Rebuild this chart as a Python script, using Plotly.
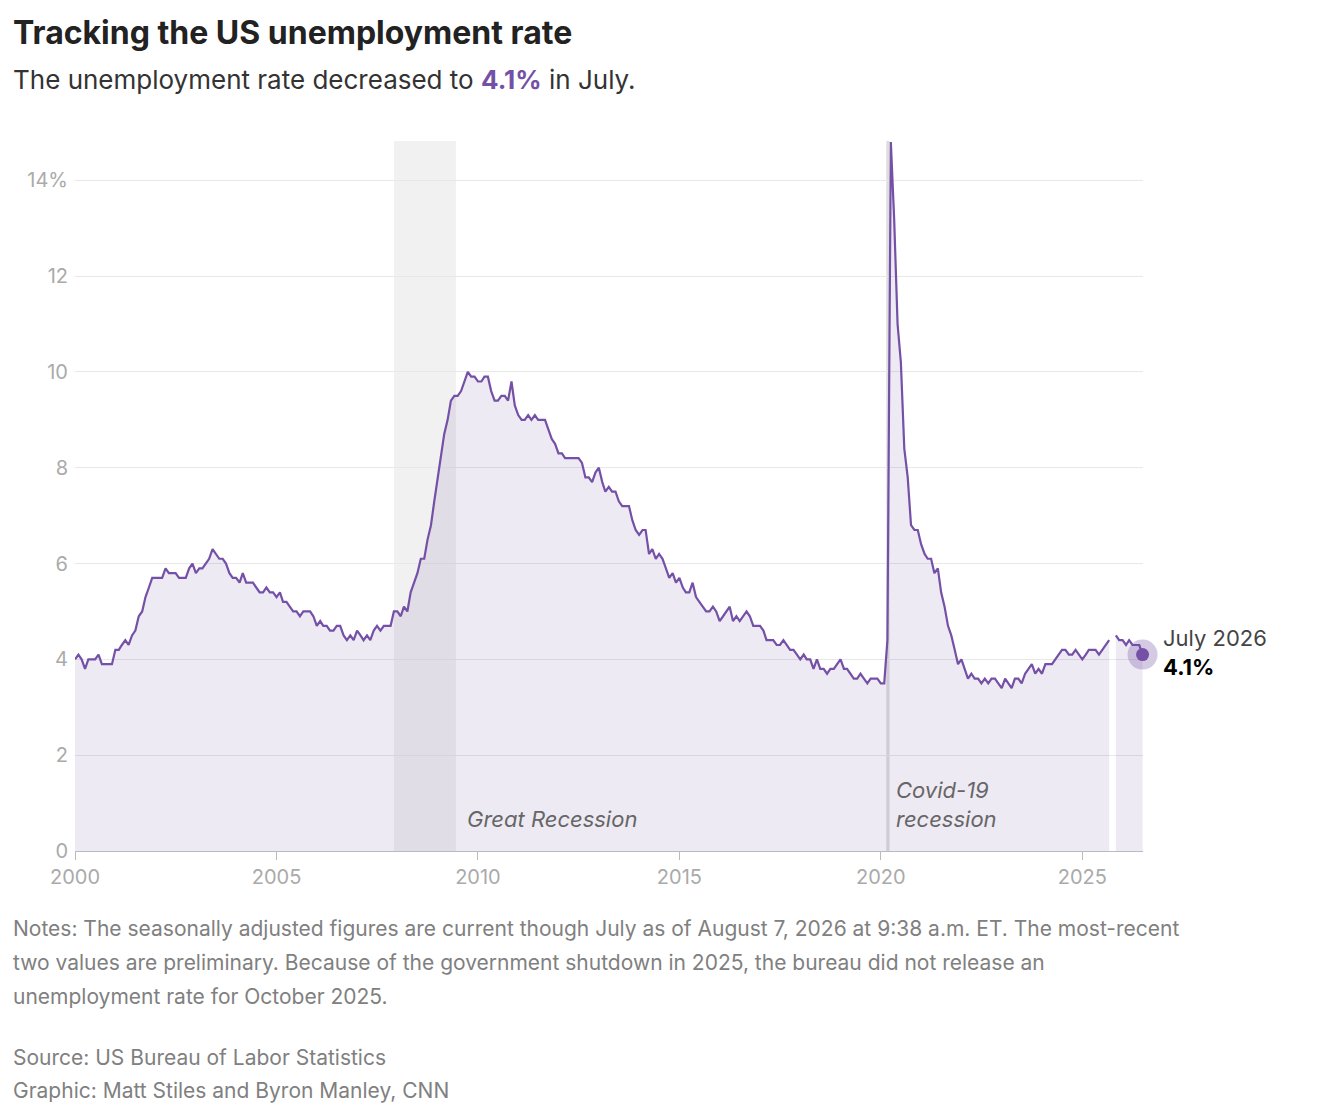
import plotly.graph_objects as go

# Monthly unemployment rate (%), January 2000 to July 2026
rates = {
    2000: [4.0, 4.1, 4.0, 3.8, 4.0, 4.0, 4.0, 4.1, 3.9, 3.9, 3.9, 3.9],
    2001: [4.2, 4.2, 4.3, 4.4, 4.3, 4.5, 4.6, 4.9, 5.0, 5.3, 5.5, 5.7],
    2002: [5.7, 5.7, 5.7, 5.9, 5.8, 5.8, 5.8, 5.7, 5.7, 5.7, 5.9, 6.0],
    2003: [5.8, 5.9, 5.9, 6.0, 6.1, 6.3, 6.2, 6.1, 6.1, 6.0, 5.8, 5.7],
    2004: [5.7, 5.6, 5.8, 5.6, 5.6, 5.6, 5.5, 5.4, 5.4, 5.5, 5.4, 5.4],
    2005: [5.3, 5.4, 5.2, 5.2, 5.1, 5.0, 5.0, 4.9, 5.0, 5.0, 5.0, 4.9],
    2006: [4.7, 4.8, 4.7, 4.7, 4.6, 4.6, 4.7, 4.7, 4.5, 4.4, 4.5, 4.4],
    2007: [4.6, 4.5, 4.4, 4.5, 4.4, 4.6, 4.7, 4.6, 4.7, 4.7, 4.7, 5.0],
    2008: [5.0, 4.9, 5.1, 5.0, 5.4, 5.6, 5.8, 6.1, 6.1, 6.5, 6.8, 7.3],
    2009: [7.8, 8.3, 8.7, 9.0, 9.4, 9.5, 9.5, 9.6, 9.8, 10.0, 9.9, 9.9],
    2010: [9.8, 9.8, 9.9, 9.9, 9.6, 9.4, 9.4, 9.5, 9.5, 9.4, 9.8, 9.3],
    2011: [9.1, 9.0, 9.0, 9.1, 9.0, 9.1, 9.0, 9.0, 9.0, 8.8, 8.6, 8.5],
    2012: [8.3, 8.3, 8.2, 8.2, 8.2, 8.2, 8.2, 8.1, 7.8, 7.8, 7.7, 7.9],
    2013: [8.0, 7.7, 7.5, 7.6, 7.5, 7.5, 7.3, 7.2, 7.2, 7.2, 6.9, 6.7],
    2014: [6.6, 6.7, 6.7, 6.2, 6.3, 6.1, 6.2, 6.1, 5.9, 5.7, 5.8, 5.6],
    2015: [5.7, 5.5, 5.4, 5.4, 5.6, 5.3, 5.2, 5.1, 5.0, 5.0, 5.1, 5.0],
    2016: [4.8, 4.9, 5.0, 5.1, 4.8, 4.9, 4.8, 4.9, 5.0, 4.9, 4.7, 4.7],
    2017: [4.7, 4.6, 4.4, 4.4, 4.4, 4.3, 4.3, 4.4, 4.3, 4.2, 4.2, 4.1],
    2018: [4.0, 4.1, 4.0, 4.0, 3.8, 4.0, 3.8, 3.8, 3.7, 3.8, 3.8, 3.9],
    2019: [4.0, 3.8, 3.8, 3.7, 3.6, 3.6, 3.7, 3.6, 3.5, 3.6, 3.6, 3.6],
    2020: [3.5, 3.5, 4.4, 14.8, 13.2, 11.0, 10.2, 8.4, 7.8, 6.8, 6.7, 6.7],
    2021: [6.4, 6.2, 6.1, 6.1, 5.8, 5.9, 5.4, 5.1, 4.7, 4.5, 4.2, 3.9],
    2022: [4.0, 3.8, 3.6, 3.7, 3.6, 3.6, 3.5, 3.6, 3.5, 3.6, 3.6, 3.5],
    2023: [3.4, 3.6, 3.5, 3.4, 3.6, 3.6, 3.5, 3.7, 3.8, 3.9, 3.7, 3.8],
    2024: [3.7, 3.9, 3.9, 3.9, 4.0, 4.1, 4.2, 4.2, 4.1, 4.1, 4.2, 4.1],
    2025: [4.0, 4.1, 4.2, 4.2, 4.2, 4.1, 4.2, 4.3, 4.4, None, 4.5, 4.4],  # no October release
    2026: [4.4, 4.3, 4.4, 4.3, 4.3, 4.3, 4.1],
}

dates, values = [], []
for year, months in rates.items():
    for m, v in enumerate(months):
        dates.append(f"{year}-{m + 1:02d}-01")
        values.append(v)

gap = values.index(None)  # split the series at the missing month

purple = '#7450a6'
font = 'Inter, Roboto, Arial, sans-serif'

fig = go.Figure()

# Recession bands
fig.add_vrect(x0='2007-12-01', x1='2009-06-15', fillcolor='#f1f1f1', line_width=0, layer='below')
fig.add_vrect(x0='2020-02-20', x1='2020-03-20', fillcolor='#dddddd', line_width=0, layer='below')

# Line with light fill, in two pieces around the missing month
for xs, ys in [(dates[:gap], values[:gap]), (dates[gap + 1:], values[gap + 1:])]:
    fig.add_trace(go.Scatter(x=xs, y=ys, mode='lines', line=dict(color=purple, width=2.2),
                             fill='tozeroy', fillcolor='rgba(116,80,166,0.12)', hoverinfo='skip'))

# Latest value marker
fig.add_trace(go.Scatter(x=[dates[-1]], y=[values[-1]], mode='markers', cliponaxis=False,
                         marker=dict(color='rgba(116,80,166,0.3)', size=30), hoverinfo='skip'))
fig.add_trace(go.Scatter(x=[dates[-1]], y=[values[-1]], mode='markers', cliponaxis=False,
                         marker=dict(color=purple, size=13), hoverinfo='skip'))

fig.update_layout(
    width=1330, height=1116,
    margin=dict(l=67, r=195, t=133, b=273),
    plot_bgcolor='white', paper_bgcolor='white',
    showlegend=False,
    font=dict(family=font, color='#aaaaaa', size=20),
    xaxis=dict(range=['2000-01-01', '2026-07-05'], tickvals=[f'{y}-01-01' for y in range(2000, 2030, 5)],
               ticktext=[str(y) for y in range(2000, 2030, 5)], showgrid=False, showline=True,
               linecolor='#bbbbbb', ticks='outside', tickcolor='#bbbbbb', ticklen=8),
    yaxis=dict(range=[0, 14.82], tickvals=[0, 2, 4, 6, 8, 10, 12, 14],
               ticktext=['0', '2', '4', '6', '8', '10', '12', '14%'], gridcolor='#e8e8e8',
               zeroline=False, ticks='', ticklabelstandoff=6),
)

# Titles, labels and notes
fig.add_annotation(text='<b>Tracking the US unemployment rate</b>', xref='paper', yref='paper',
                   x=-0.06, y=1.1535, xanchor='left', yanchor='middle', showarrow=False,
                   font=dict(size=32, color='#222222'))
fig.add_annotation(text=f"The unemployment rate decreased to <b><span style='color:{purple}'>4.1%</span></b> in July.",
                   xref='paper', yref='paper', x=-0.06, y=1.087, xanchor='left', yanchor='middle',
                   showarrow=False, font=dict(size=26, color='#333333'))
fig.add_annotation(text='<i>Great Recession</i>', x='2009-09-01', y=0.35, xanchor='left', yanchor='bottom',
                   showarrow=False, font=dict(size=22, color='#666666'))
fig.add_annotation(text='<i>Covid-19<br>recession</i>', x='2020-05-01', y=0.35, xanchor='left', yanchor='bottom',
                   showarrow=False, align='left', font=dict(size=22, color='#666666'))
fig.add_annotation(text="July 2026<br><b><span style='color:#000000'>4.1%</span></b>", x=dates[-1], y=values[-1],
                   xanchor='left', yanchor='middle', xshift=18, yshift=2, showarrow=False, align='left',
                   font=dict(size=22, color='#444444'))

footer = [
    ('Notes: The seasonally adjusted figures are current though July as of August 7, 2026 at 9:38 a.m. ET. The most-recent', 928),
    ('two values are preliminary. Because of the government shutdown in 2025, the bureau did not release an', 962),
    ('unemployment rate for October 2025.', 996),
    ('Source: US Bureau of Labor Statistics', 1057),
    ('Graphic: Matt Stiles and Byron Manley, CNN', 1090),
]
for text, py in footer:
    fig.add_annotation(text=text, xref='paper', yref='paper', x=-0.06, y=(851 - py) / 710,
                       xanchor='left', yanchor='middle', showarrow=False,
                       font=dict(size=21, color='#808080'))

fig.write_html("out.html")
